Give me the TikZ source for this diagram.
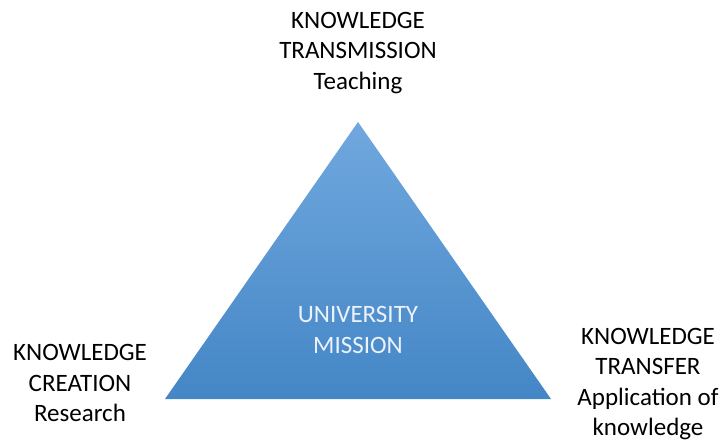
\documentclass[tikz,border=0pt]{standalone}
\usepackage{fontspec}
\setmainfont{Carlito}
\usepackage{tikz}
\usetikzlibrary{calc}
\definecolor{topblue}{RGB}{112,168,222}
\definecolor{botblue}{RGB}{68,134,198}
\definecolor{paletext}{RGB}{236,242,250}
\tikzset{label text/.style={align=center,font=\fontsize{25}{30.5}\selectfont,inner sep=0pt}}

\begin{document}
\begin{tikzpicture}[x=1pt,y=-1pt]
\useasboundingbox (0,0) rectangle (721,440);
\coordinate (apex) at (358,122);
\coordinate (left) at (165,399);
\coordinate (right) at (551,399);
\shade[top color=topblue,bottom color=botblue] (apex) -- (right) -- (left) -- cycle;
\node[label text,text=paletext] (mission) at (358,330) {UNIVERSITY\\MISSION};
\node[label text] (teaching) at (358,53) {KNOWLEDGE\\TRANSMISSION\\Teaching};
\node[label text] (research) at (80,383) {KNOWLEDGE\\CREATION\\Research};
\node[label text] (transfer) at (648,384) {KNOWLEDGE\\TRANSFER\\Application of\\knowledge};
\end{tikzpicture}
\end{document}
